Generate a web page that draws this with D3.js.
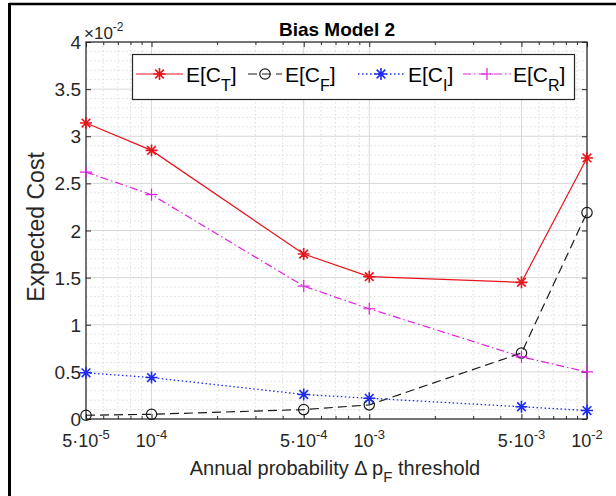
<!DOCTYPE html>
<html><head><meta charset="utf-8">
<script src="https://cdn.jsdelivr.net/npm/d3@7"></script>
<style>body{margin:0;background:#fff}svg{display:block}text{font-family:"Liberation Sans",Arial,sans-serif}</style>
</head><body>
<svg id="c" width="616" height="496"></svg>
<script>
const thresholds = [5e-5, 1e-4, 5e-4, 1e-3, 5e-3, 1e-2];
const tickLabels = [["5·10","-5"],["10","-4"],["5·10","-4"],["10","-3"],["5·10","-3"],["10","-2"]];
const costT = [3.14, 2.85, 1.75, 1.51, 1.45, 2.77];
const costF = [0.04, 0.05, 0.10, 0.15, 0.70, 2.19];
const costI = [0.49, 0.44, 0.26, 0.22, 0.13, 0.09];
const costR = [2.62, 2.38, 1.41, 1.17, 0.66, 0.50];
const yTicks = [0, 0.5, 1, 1.5, 2, 2.5, 3, 3.5, 4];

const svg = d3.select("#c");
const L = 86, R = 587, T = 42, B = 419;
const x = d3.scaleLog().domain([5e-5, 1e-2]).range([L, R]);
const y = d3.scaleLinear().domain([0, 4]).range([B, T]);

// frame
svg.append("line").attr("x1",9).attr("x2",616).attr("y1",4).attr("y2",4).attr("stroke","#000").attr("stroke-width",2.5);
svg.append("line").attr("x1",9.5).attr("x2",9.5).attr("y1",3).attr("y2",496).attr("stroke","#000").attr("stroke-width",3);

const g = svg.append("g");
// minor grid
const minorX = [];
for (let e = -5; e <= -3; e++) for (let m = 1; m <= 9; m++) { const v = m * Math.pow(10, e); if (v > 5e-5 && v < 1e-2 && !thresholds.includes(v)) minorX.push(v); }
const minorY = d3.range(0, 4.001, 0.1).filter(v => Math.abs(v*2 - Math.round(v*2)) > 1e-6);
g.selectAll(".mgx").data(minorX).enter().append("line")
 .attr("x1",d=>x(d)).attr("x2",d=>x(d)).attr("y1",T).attr("y2",B)
 .attr("stroke","#d4d4d4").attr("stroke-width",0.8).attr("stroke-dasharray","1.5,2.5");
g.selectAll(".mgy").data(minorY).enter().append("line")
 .attr("x1",L).attr("x2",R).attr("y1",d=>y(d)).attr("y2",d=>y(d))
 .attr("stroke","#d4d4d4").attr("stroke-width",0.8).attr("stroke-dasharray","1.5,2.5");
// major grid
g.selectAll(".gx").data(thresholds).enter().append("line")
 .attr("x1",d=>x(d)).attr("x2",d=>x(d)).attr("y1",T).attr("y2",B)
 .attr("stroke","#d8d8d8").attr("stroke-width",1);
g.selectAll(".gy").data(yTicks).enter().append("line")
 .attr("x1",L).attr("x2",R).attr("y1",d=>y(d)).attr("y2",d=>y(d))
 .attr("stroke","#d8d8d8").attr("stroke-width",1);

// axes with inward ticks
const ax = svg.append("g");
ax.append("g").attr("transform",`translate(0,${B})`).call(d3.axisBottom(x).tickValues(thresholds).tickSizeInner(-5).tickSizeOuter(0).tickFormat(""));
ax.append("g").attr("transform",`translate(0,${T})`).call(d3.axisTop(x).tickValues(thresholds).tickSizeInner(-5).tickSizeOuter(0).tickFormat(""));
ax.append("g").attr("transform",`translate(0,${B})`).call(d3.axisBottom(x).tickValues(minorX).tickSizeInner(-3).tickSizeOuter(0).tickFormat(""));
ax.append("g").attr("transform",`translate(0,${T})`).call(d3.axisTop(x).tickValues(minorX).tickSizeInner(-3).tickSizeOuter(0).tickFormat(""));
ax.append("g").attr("transform",`translate(${L},0)`).call(d3.axisLeft(y).tickValues(yTicks).tickSizeInner(-5).tickSizeOuter(0).tickFormat(""));
ax.append("g").attr("transform",`translate(${R},0)`).call(d3.axisRight(y).tickValues(yTicks).tickSizeInner(-5).tickSizeOuter(0).tickFormat(""));
ax.selectAll(".domain").remove();
ax.selectAll("line").attr("stroke","#262626").attr("stroke-width",1);
svg.append("rect").attr("x",L).attr("y",T).attr("width",R-L).attr("height",B-T).attr("fill","none").attr("stroke","#262626").attr("stroke-width",1.2);

// tick labels
svg.selectAll(".yl").data(yTicks).enter().append("text")
 .attr("x",L-5).attr("y",d=>y(d)+7).attr("text-anchor","end").attr("font-size",19).attr("fill","#262626")
 .text(d=>d);
const xl = svg.selectAll(".xl").data(thresholds).enter().append("text")
 .attr("x",d=>x(d)).attr("y",447).attr("text-anchor","middle").attr("font-size",18).attr("fill","#262626");
xl.append("tspan").text((d,i)=>tickLabels[i][0]);
xl.append("tspan").attr("dy",-8).attr("font-size",13).text((d,i)=>tickLabels[i][1]);

// exponent
const ex = svg.append("text").attr("x",84).attr("y",39).attr("font-size",17).attr("fill","#262626");
ex.append("tspan").text("×10");
ex.append("tspan").attr("dy",-8).attr("font-size",12).text("-2");

// title
svg.append("text").attr("x",337).attr("y",36).attr("text-anchor","middle").attr("font-size",19).attr("font-weight","bold").attr("fill","#000").text("Bias Model 2");

// axis labels
const xlab = svg.append("text").attr("x",335).attr("y",475).attr("text-anchor","middle").attr("font-size",20).attr("fill","#262626");
xlab.append("tspan").text("Annual probability Δ p");
xlab.append("tspan").attr("dy",7).attr("font-size",15).text("F");
xlab.append("tspan").attr("dy",-7).text(" threshold");
svg.append("text").attr("transform","translate(44,227) rotate(-90)").attr("text-anchor","middle").attr("font-size",23).attr("fill","#262626").text("Expected Cost");

// series
const series = [
 {name:"T", vals:costT, color:"#e8141c", dash:null, marker:"star", w:1.2},
 {name:"F", vals:costF, color:"#1a1a1a", dash:"9,5", marker:"circle", w:1.2},
 {name:"I", vals:costI, color:"#1f2cf0", dash:"1.5,2.5", marker:"star", w:1.3},
 {name:"R", vals:costR, color:"#e020e0", dash:"8,3,1.5,3", marker:"plus", w:1.2}
];
const line = d3.line().x(d=>x(d[0])).y(d=>y(d[1]));
function drawMarker(sel, type, color, cx, cy, s) {
 if (type === "circle") {
   sel.append("circle").attr("cx",cx).attr("cy",cy).attr("r",s*0.65).attr("fill","none").attr("stroke",color).attr("stroke-width",1.2);
 } else {
   const p = d3.path();
   p.moveTo(cx-s,cy); p.lineTo(cx+s,cy); p.moveTo(cx,cy-s); p.lineTo(cx,cy+s);
   if (type === "star") { const k = s*0.72; p.moveTo(cx-k,cy-k); p.lineTo(cx+k,cy+k); p.moveTo(cx-k,cy+k); p.lineTo(cx+k,cy-k); }
   sel.append("path").attr("d",p.toString()).attr("stroke",color).attr("stroke-width",type==="star"?1.6:1.2).attr("fill","none");
 }
}
series.forEach(s => {
 const pts = thresholds.map((t,i)=>[t, s.vals[i]]);
 svg.append("path").attr("d",line(pts)).attr("fill","none").attr("stroke",s.color).attr("stroke-width",s.w).attr("stroke-dasharray",s.dash);
 const mg = svg.append("g");
 pts.forEach(p => drawMarker(mg, s.marker, s.color, x(p[0]), y(p[1]), s.marker==="circle"?8:6));
});

// legend
const lg = svg.append("g");
lg.append("rect").attr("x",132.5).attr("y",54.5).attr("width",442).attr("height",45).attr("fill","#fff").attr("stroke","#262626").attr("stroke-width",1.2);
const lItems = [
 {s:series[0], x0:136, x1:183, tx:186},
 {s:series[1], x0:248, x1:282, tx:285},
 {s:series[2], x0:358, x1:404, tx:408},
 {s:series[3], x0:463, x1:511, tx:513}
];
const ly = 74;
lItems.forEach(it => {
 lg.append("line").attr("x1",it.x0).attr("x2",it.x1).attr("y1",ly).attr("y2",ly).attr("stroke",it.s.color).attr("stroke-width",it.s.w).attr("stroke-dasharray",it.s.dash);
 drawMarker(lg, it.s.marker, it.s.color, (it.x0+it.x1)/2, ly, it.s.marker==="circle"?8:6);
 const t = lg.append("text").attr("x",it.tx).attr("y",ly+8).attr("font-size",21).attr("fill","#000");
 t.append("tspan").text("E[C");
 t.append("tspan").attr("dy",9).attr("font-size",16).text(it.s.name);
 t.append("tspan").attr("dy",-9).text("]");
});
</script>
</body></html>
